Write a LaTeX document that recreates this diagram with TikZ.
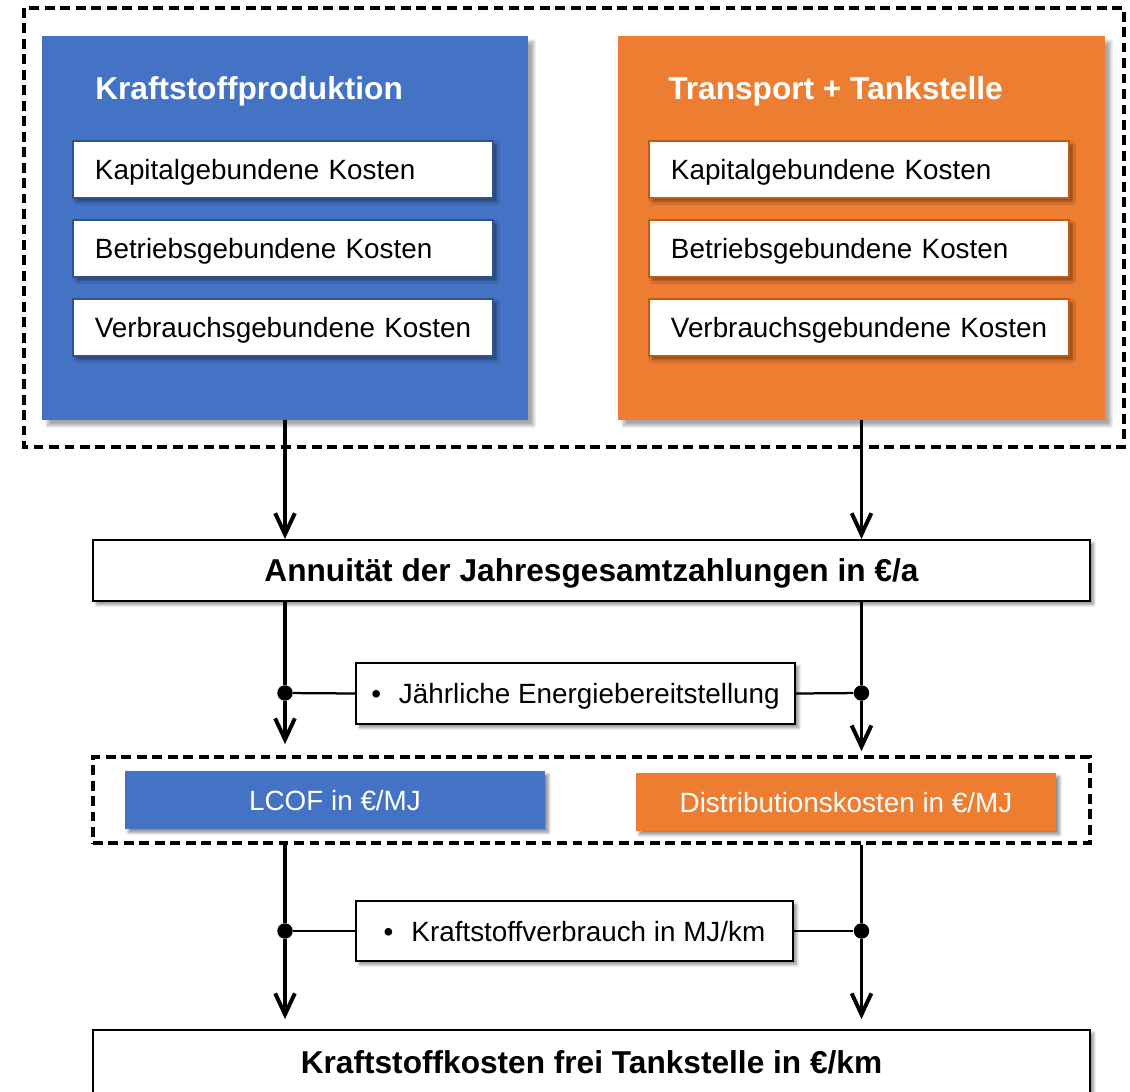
\documentclass[tikz,border=0pt]{standalone}
\usepackage{fontspec}
\setmainfont{Liberation Sans}
\usepackage{tikz}
\usetikzlibrary{arrows.meta,shadows,shadows.blur,positioning}

\definecolor{prodblue}{RGB}{68,114,196}
\definecolor{prodborder}{RGB}{47,82,143}
\definecolor{tankorange}{RGB}{237,125,49}
\definecolor{tankborder}{RGB}{197,90,17}

\newcommand{\bodyfont}{\fontsize{19.8}{24}\selectfont}
\newcommand{\headfont}{\fontsize{22.5}{27}\selectfont\bfseries}

\tikzset{
  wh/.style 2 args={minimum width=#1*0.025cm, minimum height=#2*0.025cm, inner sep=0pt},
  soft/.style={blur shadow={shadow xshift=2.5pt, shadow yshift=-2.5pt, shadow blur steps=6, shadow opacity=45}},
  panel/.style={blur shadow={shadow xshift=4pt, shadow yshift=-4pt, shadow blur steps=8, shadow opacity=35}},
  head/.style={text=white, font=\headfont, inner sep=0pt},
  cbox/.style={draw, fill=white, line width=1.5pt, text width=9.9cm, inner xsep=0.3cm, inner ysep=0pt,
    minimum height=1.425cm, align=left, font=\bodyfont, text depth=0pt, soft,
    execute at begin node={\hspace*{0.25cm}}},
  sumbox/.style={draw, fill=white, line width=1.5pt, font=\headfont, soft},
  factbox/.style={draw, fill=white, line width=1.5pt, font=\bodyfont, text depth=0pt, soft},
  resbox/.style={text=white, font=\bodyfont, text depth=0pt, soft},
  dashbox/.style={line width=2.3pt, dash pattern=on 7pt off 4pt},
  conn/.style={line width=2.8pt},
  thin/.style={line width=1.6pt},
  arr/.style={conn, -{Straight Barb[length=15pt, width=14pt]}},
  dot/.style={circle, fill, inner sep=0pt, minimum size=11pt}
}

\begin{document}
\begin{tikzpicture}[x=0.025cm, y=-0.025cm]
  \useasboundingbox (0,0) rectangle (1130,1091);
  \draw[dashbox] (24,8) rectangle (1124,447);

  % Produktion
  \node[panel, fill=prodblue, wh={486}{384}] (prod) at (285,228) {};
  \node[head, anchor=base west] (prodhead) at (95,99.5) {Kraftstoffproduktion};
  \node[cbox, draw=prodborder] (prodkap) at (283,169.5) {Kapitalgebundene Kosten};
  \node[cbox, draw=prodborder] (prodbet) at (283,248.5) {Betriebsgebundene Kosten};
  \node[cbox, draw=prodborder] (prodver) at (283,327.5) {Verbrauchsgebundene Kosten};

  % Transport
  \node[panel, fill=tankorange, wh={487}{384}] (tank) at (861.5,228) {};
  \node[head, anchor=base west] (tankhead) at (668,99.5) {Transport + Tankstelle};
  \node[cbox, draw=tankborder] (tankkap) at (859,169.5) {Kapitalgebundene Kosten};
  \node[cbox, draw=tankborder] (tankbet) at (859,248.5) {Betriebsgebundene Kosten};
  \node[cbox, draw=tankborder] (tankver) at (859,327.5) {Verbrauchsgebundene Kosten};

  \node[sumbox, text depth=0pt, wh={997}{61}] (annu) at (591.5,570.5) {Annuität der Jahresgesamtzahlungen in €/a};
  \node[factbox, wh={439}{61}] (jahr) at (575.5,693.5) {•\hspace{0.45cm}Jährliche Energiebereitstellung};

  \node[dashbox, draw, wh={997}{86}] (costs) at (591.5,800) {};
  \node[resbox, fill=prodblue, wh={420}{58}] (lcof) at (335,800) {LCOF in €/MJ};
  \node[resbox, fill=tankorange, wh={420}{58}] (dist) at (846,802) {Distributionskosten in €/MJ};

  \node[factbox, wh={437}{60}] (verb) at (574.5,931) {•\hspace{0.45cm}Kraftstoffverbrauch in MJ/km};
  \node[sumbox, wh={997}{64}] (final) at (591.5,1062) {Kraftstoffkosten frei Tankstelle in €/km};

  \draw[arr] (prod.south) -- (prod.south |- annu.north);
  \draw[arr] (tank.south) -- (tank.south |- annu.north);

  \node[dot] (d1) at (285,693) {};
  \node[dot] (d2) at (861.5,693) {};
  \draw[conn] (annu.south -| d1) -- (d1);
  \draw[conn] (annu.south -| d2) -- (d2);
  \draw[thin] (d1) -- (jahr.west);
  \draw[thin] (jahr.east) -- (d2);
  \draw[arr, shorten >=8pt] (d1) -- (d1 |- costs.north);
  \draw[arr, shorten >=3pt] (d2) -- (d2 |- costs.north);

  \node[dot] (d3) at (285,931) {};
  \node[dot] (d4) at (861.5,931) {};
  \draw[conn] (costs.south -| d3) -- (d3);
  \draw[conn] (costs.south -| d4) -- (d4);
  \draw[thin] (d3) -- (verb.west);
  \draw[thin] (verb.east) -- (d4);
  \draw[arr, shorten >=7pt] (d3) -- (d3 |- final.north);
  \draw[arr, shorten >=7pt] (d4) -- (d4 |- final.north);
\end{tikzpicture}
\end{document}
